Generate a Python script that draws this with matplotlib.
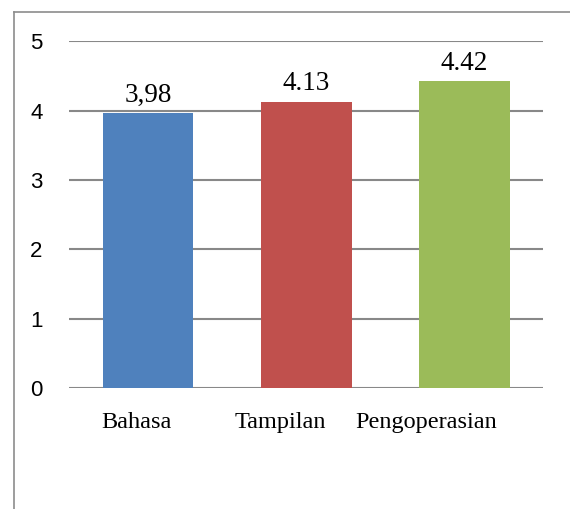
import matplotlib
matplotlib.use("Agg")
import matplotlib.pyplot as plt
from matplotlib.lines import Line2D

categories = ["Bahasa", "Tampilan", "Pengoperasian"]
values = [3.96, 4.13, 4.42]
value_labels = ["3,98", "4.13", "4.42"]
colors = ["#4F81BD", "#C0504D", "#9BBB59"]
yticks = [0, 1, 2, 3, 4, 5]

# the original's category labels sit a bit left of their bars (pixels)
label_shift_px = [-12, -26, -38]

fig = plt.figure(figsize=(5.7, 5.09), dpi=100)
ax = fig.add_axes([0.121, 0.2377, 0.832, 0.6813])

x = list(range(len(categories)))
bars = ax.bar(x, values, width=0.575, color=colors, zorder=3)
for b, lab in zip(bars, value_labels):
    ax.text(b.get_x() + b.get_width() / 2, b.get_height() + 0.17, lab,
            ha='center', va='baseline', fontsize=19.5, family='Liberation Serif')

ax.set_xlim(-0.5, len(categories) - 0.5)
ax.set_ylim(0, 5)
ax.set_yticks(yticks)
ax.set_yticklabels([str(t) for t in yticks], fontsize=16, family='Liberation Sans')
ax.set_xticks(x)
ax.set_xticklabels([])
for xi, cat, dx in zip(x, categories, label_shift_px):
    ax.annotate(cat, xy=(xi, 0), xycoords=('data', 'axes fraction'),
                xytext=(dx * 0.72, -17), textcoords='offset points',
                ha='center', va='top', fontsize=17.5, family='Liberation Serif')
ax.tick_params(axis='both', length=0)
ax.tick_params(axis='y', pad=19)
ax.yaxis.grid(True, color='#888888', linewidth=1.5, zorder=0)
for s in ax.spines.values():
    s.set_visible(False)

# outer frame (left and top edges only)
fig.add_artist(Line2D([14 / 570, 14 / 570], [0, 1 - 11.5 / 509],
                      transform=fig.transFigure, color='#8c8c8c', linewidth=1.2))
fig.add_artist(Line2D([14 / 570, 1], [1 - 11.5 / 509, 1 - 11.5 / 509],
                      transform=fig.transFigure, color='#8c8c8c', linewidth=1.2))

fig.savefig("out.png", dpi=100)
